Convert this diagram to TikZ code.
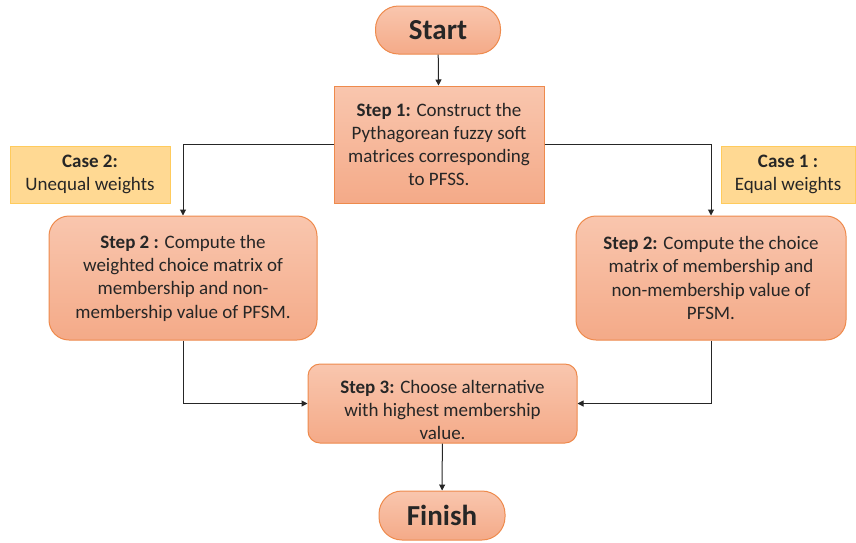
\documentclass[tikz,border=0pt]{standalone}
\usepackage{fontspec}
\setmainfont{Carlito}
\usepackage{xcolor}
\usepackage{tikz}
\usetikzlibrary{arrows.meta, positioning}

\definecolor{boxtop}{HTML}{F9C6AE}
\definecolor{boxbot}{HTML}{F4AA88}
\definecolor{boxline}{HTML}{EE8A4C}
\definecolor{casefill}{HTML}{FFD993}
\definecolor{caseline}{HTML}{FFCB5C}
\definecolor{inktext}{HTML}{262626}

\begin{document}
\begin{tikzpicture}[
  x=1pt, y=-1pt,
  stepbox/.style={rectangle, draw=boxline, line width=1pt, top color=boxtop,
                  bottom color=boxbot, text=inktext, align=center,
                  font=\fontsize{19}{23.3}\selectfont, inner sep=2pt},
  endbox/.style={stepbox, rounded corners=23pt, minimum width=125pt,
                 minimum height=48pt, font=\fontsize{29}{32}\selectfont\bfseries},
  casebox/.style={rectangle, draw=caseline, line width=0.8pt, fill=casefill,
                  text=inktext, align=center, minimum height=57pt,
                  font=\fontsize{19}{23.3}\selectfont},
  arrow/.style={-{Triangle[length=6pt, width=6pt]}, line width=1pt, inktext},
]
  \useasboundingbox (0,0) rectangle (856,542);

  \node[endbox] (start) at (438,30) {Start};
  \node[stepbox, minimum width=210pt, minimum height=117pt] (s1) at (439,144.5)
    {\textbf{Step 1:} Construct the\\Pythagorean fuzzy soft\\matrices corresponding\\to PFSS.};
  \node[casebox, minimum width=160pt] (c2) at (90,174.5) {\textbf{Case 2:}\\Unequal weights};
  \node[casebox, minimum width=134pt] (c1) at (788,174.5) {\textbf{Case 1 :}\\Equal weights};
  \node[stepbox, rounded corners=20pt, minimum width=268pt, minimum height=124pt] (s2l) at (183,278)
    {\textbf{Step 2 :} Compute the\\weighted choice matrix of\\membership and non-\\membership value of PFSM.};
  \node[stepbox, rounded corners=20pt, minimum width=270pt, minimum height=124pt] (s2r) at (711,278)
    {\textbf{Step 2:} Compute the choice\\matrix of membership and\\non-membership value of\\PFSM.};
  \node[stepbox, rounded corners=12pt, minimum width=269pt, minimum height=79pt] (s3) at (442.5,403.5)
    {\rule{0pt}{26pt}\textbf{Step 3:} Choose alternative\\with highest membership\\value.};
  \node[endbox, minimum width=126pt, minimum height=49pt] (fin) at (442,515.5) {Finish};

  \draw[arrow] (start) -- (s1);
  \draw[arrow] (s1.west) -| (s2l.north);
  \draw[arrow] (s1.east) -| (s2r.north);
  \draw[arrow] (s2l.south) |- (s3.west);
  \draw[arrow] (s2r.south) |- (s3.east);
  \draw[arrow] (s3) -- (fin);
\end{tikzpicture}
\end{document}
